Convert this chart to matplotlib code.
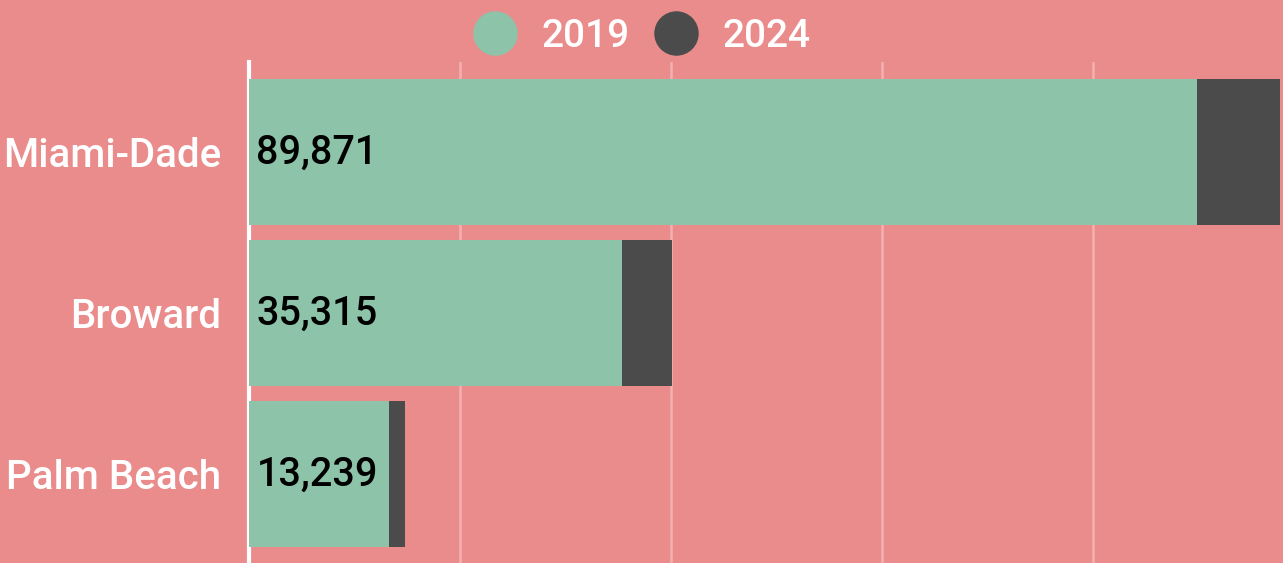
import matplotlib.pyplot as plt
from matplotlib.lines import Line2D

counties = ["Miami-Dade", "Broward", "Palm Beach"]
v2019 = [89871, 35315, 13239]
v2024 = [97720, 40090, 14785]
years = ["2019", "2024"]

bg = "#EB8C8C"
green = "#8DC3A8"
dark = "#4B4B4B"

plt.rcParams['font.family'] = ['Roboto', 'DejaVu Sans']
plt.rcParams['font.weight'] = 'medium'

fig = plt.figure(figsize=(12.83, 5.63), dpi=100, facecolor=bg)
ax = fig.add_axes([249 / 1283, 0, 1034 / 1283, 501 / 563])
ax.set_facecolor(bg)

y = list(range(len(counties)))
ax.barh(y, v2024, height=0.907, color=dark, zorder=2)
ax.barh(y, v2019, height=0.907, color=green, zorder=3)

for yi, v in zip(y, v2019):
    ax.text(700, yi, f"{v:,}", va="center", ha="left", fontsize=28.5,
            color="black", fontweight="medium", zorder=4)

ax.set_xlim(0, 98000)
ax.set_ylim(2.55, -0.562)
ax.set_xticks([20000, 40000, 60000, 80000])
ax.xaxis.grid(True, color="#F3B0B0", linewidth=1.8, zorder=0)
ax.set_axisbelow(True)
ax.tick_params(axis="x", length=0, labelbottom=False)
ax.set_yticks(y)
ax.set_yticklabels(counties, fontsize=29, color="white", fontweight="medium")
ax.tick_params(axis="y", length=0, pad=20)

for s in ["top", "right", "bottom"]:
    ax.spines[s].set_visible(False)
ax.spines["left"].set_color("white")
ax.spines["left"].set_linewidth(3)

handles = [Line2D([], [], marker="o", linestyle="", markersize=31,
                  markerfacecolor=c, markeredgecolor=c) for c in (green, dark)]
leg = fig.legend(handles, years, loc="upper center", bbox_to_anchor=(0.5, 1.03),
                 ncol=2, frameon=False, handlelength=1.15, handletextpad=0.62,
                 columnspacing=0.62, prop={"size": 28, "weight": "medium"})
for t in leg.get_texts():
    t.set_color("white")

fig.savefig("out.png", facecolor=bg)
